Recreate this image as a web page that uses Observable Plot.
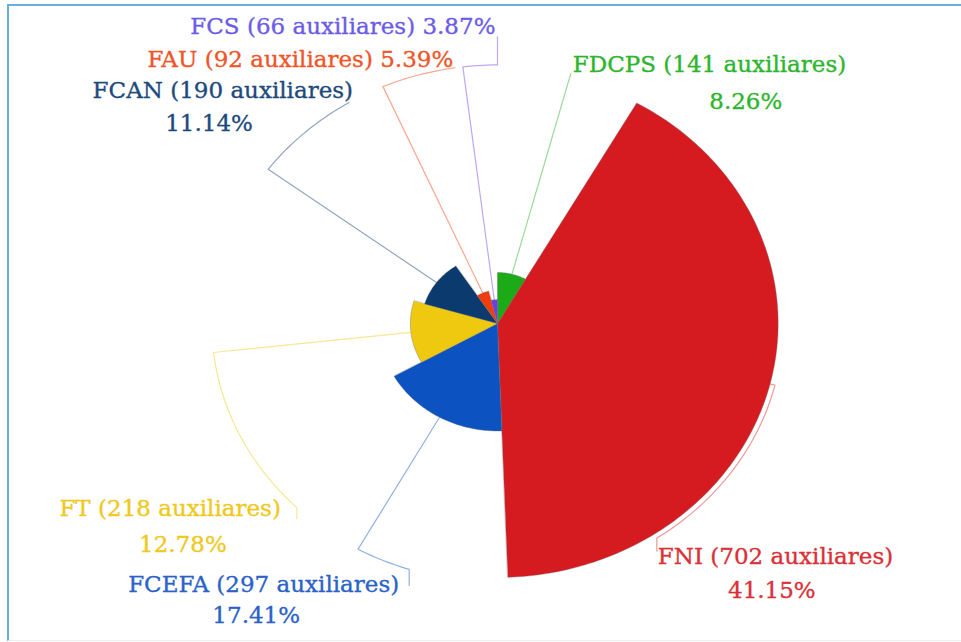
<!DOCTYPE html>
<html><head><meta charset="utf-8">
<script src="https://cdn.jsdelivr.net/npm/d3@7"></script>
<script src="https://cdn.jsdelivr.net/npm/@observablehq/plot@0.6"></script>
<style>
html,body{margin:0;padding:0;background:#fff;}
#wrap{position:relative;width:961px;height:642px;overflow:hidden;}
#frame{position:absolute;left:7px;top:4px;right:-10px;bottom:1px;border-top:2px solid #6aafdc;border-left:2px solid #6aafdc;border-bottom:1px solid #eceff2;pointer-events:none;}
</style></head><body>
<div id="wrap"><div id="chart"></div><div id="frame"></div></div>
<script>
// ---- data ----
const categories  = ["FDCPS","FNI","FCEFA","FT","FCAN","FAU","FCS"];
const auxiliares  = [141, 702, 297, 218, 190, 92, 66];
const percentages = [8.26, 41.15, 17.41, 12.78, 11.14, 5.39, 3.87];

// ---- styles ----
const sliceColors = ["#1aab17","#d61b20","#0c53c1","#efc90f","#0b3a6e","#f03d0b","#6a3fe4"];
const labelColors = ["#2db52d","#da3037","#2a62c8","#f0c81c","#1d4a7c","#ef5529","#6c5ce5"];

// ---- layout ----
const W = 961, H = 642, CX = 497, CY = 323;
const R_PX = 254;        // vertical pixel radius of the largest slice
const STRETCH = 1.105;   // horizontal stretch of the picture
const FONT = "DejaVu Serif", FS = 23;
// label layout: arc end angle of the leader, final leg (px), text offsets (px)
const labelLayout = {
  FDCPS: {end: null,  leg: 0,   l1: {anchor: "start", dx: 2,   dy: -2}, l2: {dx: 175,  dy: 35}},
  FNI:   {end: 146.1, leg: 13,  l1: {anchor: "start", dx: 1,   dy: 13}, l2: {dx: 115,  dy: 47}},
  FCEFA: {end: 198,   leg: 16,  l1: {anchor: "end",   dx: -10, dy: 7},  l2: {dx: -153, dy: 38}},
  FT:    {end: 224.6, leg: 11,  l1: {anchor: "end",   dx: -16, dy: -3}, l2: {dx: -114, dy: 33}},
  FCAN:  {end: 328.7, leg: 0,   l1: {anchor: "end",   dx: 4,   dy: -5}, l2: {dx: -140, dy: 28}},
  FAU:   {end: 351.5, leg: 0,   l1: {anchor: "end",   dx: -2,  dy: -1}, l2: null},
  FCS:   {end: 360,   leg: -28, l1: {anchor: "end",   dx: -2,  dy: -3}, l2: null}
};

const maxV = d3.max(auxiliares);
const ky = R_PX / maxV, kx = ky * STRETCH;
const LEAD = maxV * 1.018;
const rad = d => d * Math.PI / 180;
const pol = (r, deg) => [r * Math.sin(rad(deg)), r * Math.cos(rad(deg))];

// slice angles
let cum = 0;
const slices = categories.map((c, i) => {
  const a0 = cum * 3.6; cum += percentages[i]; const a1 = cum * 3.6;
  return {cat: c, value: auxiliares[i], pct: percentages[i], a0, a1, mid: (a0 + a1) / 2, i};
});

// slice polygons
const slicePts = [];
for (const s of slices) {
  slicePts.push({cat: s.cat, x: 0, y: 0});
  const n = Math.max(2, Math.ceil(s.a1 - s.a0));
  for (let k = 0; k <= n; k++) {
    const [x, y] = pol(s.value, s.a0 + (s.a1 - s.a0) * k / n);
    slicePts.push({cat: s.cat, x, y});
  }
}

// leader lines and label anchors
const leadPts = [];
const ends = {};
for (const s of slices) {
  const L = labelLayout[s.cat];
  let [x, y] = pol(s.value, s.mid);
  leadPts.push({cat: s.cat, x, y});
  [x, y] = pol(LEAD, s.mid);
  leadPts.push({cat: s.cat, x, y});
  if (L.end != null) {
    const n = Math.max(2, Math.ceil(Math.abs(L.end - s.mid)));
    for (let k = 1; k <= n; k++) {
      [x, y] = pol(LEAD, s.mid + (L.end - s.mid) * k / n);
      leadPts.push({cat: s.cat, x, y});
    }
  }
  if (L.leg) { y = y - L.leg / ky; leadPts.push({cat: s.cat, x, y}); }
  ends[s.cat] = {x, y};
}

const textMarks = [];
for (const s of slices) {
  const L = labelLayout[s.cat], e = ends[s.cat];
  const col = labelColors[s.i];
  const common = {fontFamily: FONT, fontSize: FS, fill: col, stroke: col, strokeWidth: 0.35, lineAnchor: "bottom"};
  if (L.l2) {
    textMarks.push(Plot.text([`${s.cat} (${s.value} auxiliares)`], {
      ...common, x: () => e.x + L.l1.dx / kx, y: () => e.y - L.l1.dy / ky,
      text: d => d, textAnchor: L.l1.anchor}));
    textMarks.push(Plot.text([`${s.pct.toFixed(2)}%`], {
      ...common, x: () => e.x + L.l2.dx / kx, y: () => e.y - L.l2.dy / ky,
      text: d => d, textAnchor: "middle"}));
  } else {
    textMarks.push(Plot.text([`${s.cat} (${s.value} auxiliares) ${s.pct.toFixed(2)}%`], {
      ...common, x: () => e.x + L.l1.dx / kx, y: () => e.y - L.l1.dy / ky,
      text: d => d, textAnchor: L.l1.anchor}));
  }
}

const chart = Plot.plot({
  width: W, height: H, margin: 0,
  x: {domain: [-CX / kx, (W - CX) / kx], axis: null},
  y: {domain: [-(H - CY) / ky, CY / ky], axis: null},
  color: {domain: categories, range: sliceColors},
  style: {background: "transparent"},
  marks: [
    Plot.line(leadPts, {x: "x", y: "y", z: "cat", stroke: "cat", strokeOpacity: 0.45, strokeWidth: 1.2, curve: "linear"}),
    Plot.line(slicePts, {x: "x", y: "y", z: "cat", fill: "cat", stroke: "#6d6d6d", strokeOpacity: 0.55, strokeWidth: 0.7, curve: "linear-closed"}),
    ...textMarks
  ]
});
document.getElementById("chart").appendChild(chart);
</script>
</body></html>
